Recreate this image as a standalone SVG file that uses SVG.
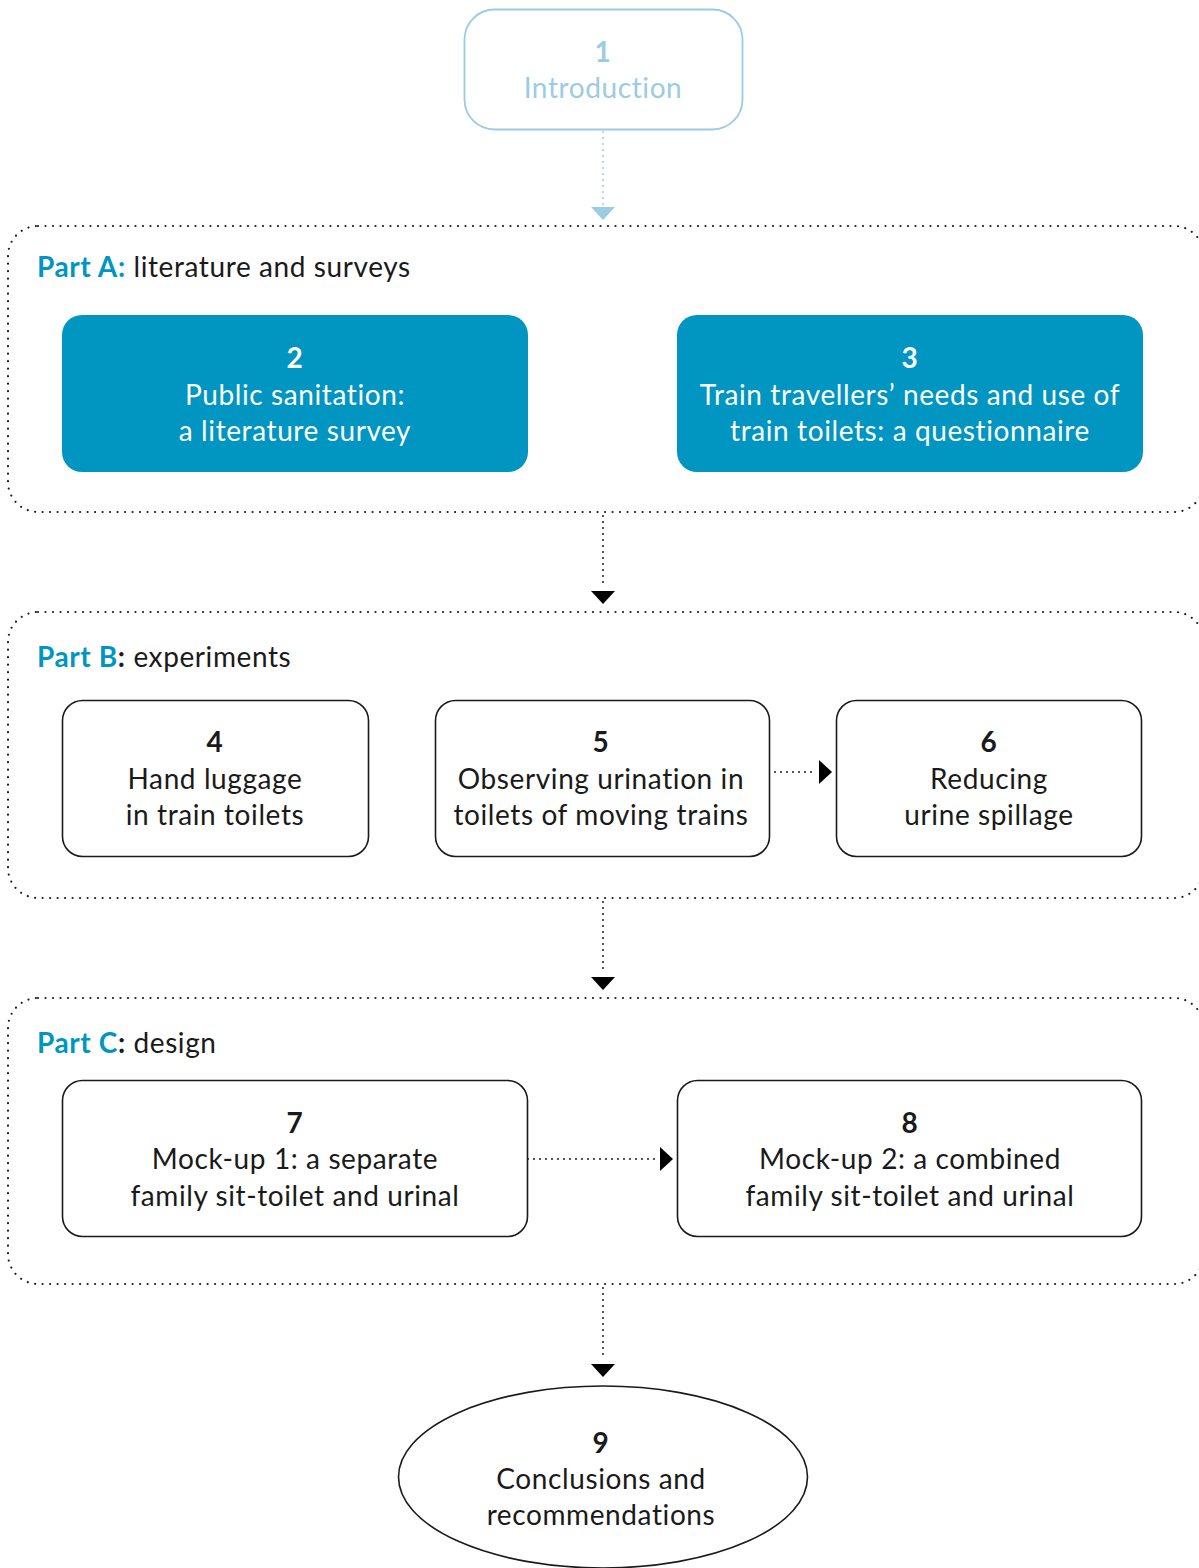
<svg xmlns="http://www.w3.org/2000/svg" width="1199" height="1568" viewBox="0 0 1199 1568">
<style>
text{font-family:Lato,"Open Sans","Liberation Sans",sans-serif;font-size:28px;text-anchor:middle;fill:#1a1a1a;font-weight:400;letter-spacing:0.6px}
.num{font-weight:700}
.part{fill:none;stroke:#1a1a1a;stroke-width:2.2;stroke-dasharray:0 7.5;stroke-linecap:round}
.box{fill:#fff;stroke:#1a1a1a;stroke-width:1.6}
.blue{fill:#0096c1}
.wt{fill:#fff}
.lbl{text-anchor:start}
.pa{fill:#0096c1;font-weight:700}
.con{stroke:#1a1a1a;stroke-width:2;stroke-dasharray:0 6;stroke-linecap:round;fill:none}
</style>
<g id="partA"><rect class="part" x="8" y="226" width="1196" height="286" rx="30"/>
<text class="lbl" x="37" y="277"><tspan class="pa">Part A:</tspan> literature and surveys</text></g>
<g id="partB"><rect class="part" x="8" y="612" width="1196" height="286" rx="30"/>
<text class="lbl" x="37" y="667"><tspan class="pa">Part B</tspan><tspan font-weight="700">:</tspan> experiments</text></g>
<g id="partC"><rect class="part" x="8" y="998" width="1196" height="286" rx="30"/>
<text class="lbl" x="37" y="1053"><tspan class="pa">Part C</tspan><tspan font-weight="700">:</tspan> design</text></g>
<g id="connectors">
<line x1="603" y1="132" x2="603" y2="208" stroke="#9ccbe4" stroke-width="2" stroke-dasharray="0 6" stroke-linecap="round"/>
<polygon points="591,207 615,207 603,220" fill="#9ccbe4"/>
<line class="con" x1="603" y1="516" x2="603" y2="588"/>
<polygon points="591,591 615,591 603,604" fill="#000"/>
<line class="con" x1="603" y1="902" x2="603" y2="974"/>
<polygon points="591,977 615,977 603,990" fill="#000"/>
<line class="con" x1="603" y1="1288" x2="603" y2="1360"/>
<polygon points="591,1364 615,1364 603,1377" fill="#000"/>
<line class="con" x1="775" y1="772" x2="815" y2="772"/>
<polygon points="819,760 819,784 832,772" fill="#000"/>
<line class="con" x1="528" y1="1159" x2="656" y2="1159"/>
<polygon points="660,1147 660,1171 673,1159" fill="#000"/>
</g>
<g id="n1"><rect x="464.5" y="9.5" width="278" height="120" rx="30" fill="#fff" stroke="#9ccbe4" stroke-width="1.8"/>
<text x="603" y="62" class="num" style="fill:#9ccbe4">1</text>
<text x="603" y="98" style="fill:#9ccbe4">Introduction</text></g>
<g id="n2"><rect class="blue" x="62" y="315" width="466" height="157" rx="20"/>
<text class="num wt" x="295" y="368">2</text>
<text class="wt" x="295" y="405">Public sanitation:</text>
<text class="wt" x="295" y="441">a literature survey</text></g>
<g id="n3"><rect class="blue" x="677" y="315" width="466" height="157" rx="20"/>
<text class="num wt" x="910" y="368">3</text>
<text class="wt" x="910" y="405">Train travellers’ needs and use of</text>
<text class="wt" x="910" y="441">train toilets: a questionnaire</text></g>
<g id="n4"><rect class="box" x="62.5" y="700.5" width="306" height="156" rx="20"/>
<text class="num" x="215" y="752">4</text>
<text x="215" y="789">Hand luggage</text>
<text x="215" y="825">in train toilets</text></g>
<g id="n5"><rect class="box" x="435.5" y="700.5" width="334" height="156" rx="20"/>
<text class="num" x="601" y="752">5</text>
<text x="601" y="789">Observing urination in</text>
<text x="601" y="825">toilets of moving trains</text></g>
<g id="n6"><rect class="box" x="836.5" y="700.5" width="305" height="156" rx="20"/>
<text class="num" x="989" y="752">6</text>
<text x="989" y="789">Reducing</text>
<text x="989" y="825">urine spillage</text></g>
<g id="n7"><rect class="box" x="62.5" y="1080.5" width="465" height="156" rx="20"/>
<text class="num" x="295" y="1133">7</text>
<text x="295" y="1169">Mock-up 1: a separate</text>
<text x="295" y="1206">family sit-toilet and urinal</text></g>
<g id="n8"><rect class="box" x="677.5" y="1080.5" width="464" height="156" rx="20"/>
<text class="num" x="910" y="1133">8</text>
<text x="910" y="1169">Mock-up 2: a combined</text>
<text x="910" y="1206">family sit-toilet and urinal</text></g>
<g id="n9"><ellipse class="box" cx="603" cy="1477" rx="204.5" ry="91"/>
<text class="num" x="601" y="1453">9</text>
<text x="601" y="1489">Conclusions and</text>
<text x="601" y="1525">recommendations</text></g>
</svg>
